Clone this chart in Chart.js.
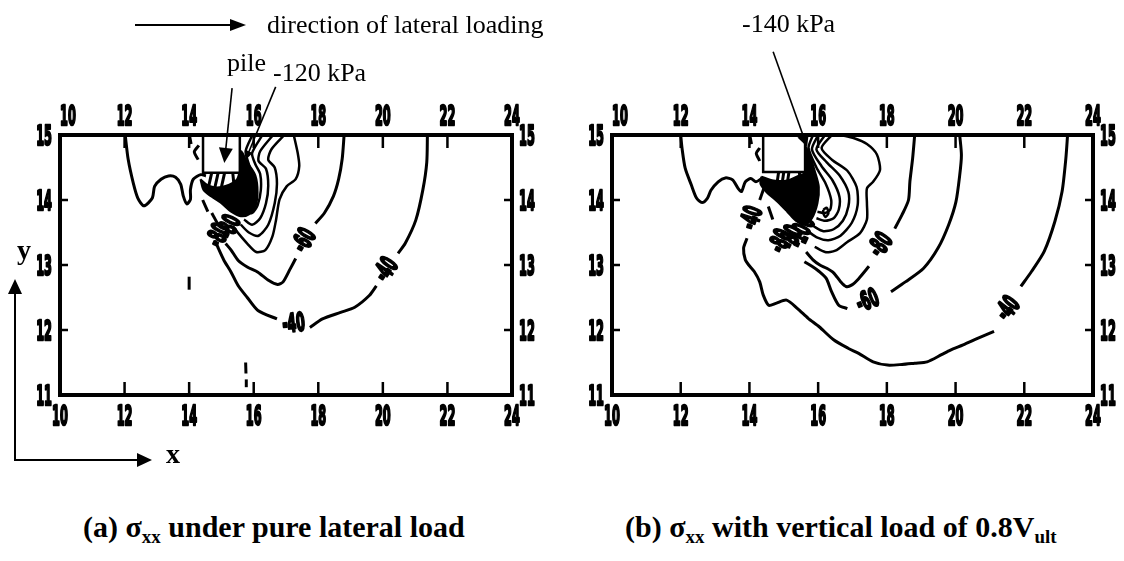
<!DOCTYPE html>
<html>
<head>
<meta charset="utf-8">
<title>sigma xx contours</title>
<script src="https://cdn.jsdelivr.net/npm/chart.js@4.4.1/dist/chart.umd.min.js"></script>
<style>
  body { margin:0; background:#fff; width:1124px; height:561px; position:relative; overflow:hidden; }
  canvas { position:absolute; top:0; }
  #plotA { left:10px; }
  #plotB { left:562px; }
  .ann { position:absolute; font-family:'Liberation Serif','Times New Roman',serif; font-size:26px; line-height:26px; white-space:nowrap; color:#000; }
  .cap { position:absolute; font-family:'Liberation Serif','Times New Roman',serif; font-weight:bold; font-size:30px; line-height:32px; white-space:nowrap; }
  .cap sub { font-size:19px; vertical-align:-6px; line-height:0; }
  .axl { position:absolute; font-family:'Liberation Serif','Times New Roman',serif; font-weight:bold; font-size:28px; line-height:28px; }
  svg { position:absolute; left:0; top:0; }
</style>
</head>
<body>

<svg width="1124" height="561">
  <!-- direction of loading arrow -->
  <line x1="135" y1="25" x2="232" y2="25" stroke="#000" stroke-width="2"/>
  <polygon points="246,25 230,19 230,31" fill="#000"/>
  <!-- x / y axis arrows -->
  <line x1="15" y1="461" x2="15" y2="292" stroke="#000" stroke-width="2"/>
  <polygon points="15,279 8,294 22,294" fill="#000"/>
  <line x1="14" y1="460" x2="139" y2="460" stroke="#000" stroke-width="2"/>
  <polygon points="152,460 137,453 137,467" fill="#000"/>
</svg>

<canvas id="plotA" width="552" height="440"></canvas>
<canvas id="plotB" width="562" height="440"></canvas>

<div class="ann" style="left:267px;top:12px">direction of lateral loading</div>
<div class="ann" style="left:227px;top:50px">pile</div>
<div class="ann" style="left:273px;top:60px">-120 kPa</div>
<div class="ann" style="left:742px;top:11px">-140 kPa</div>
<div class="axl" style="left:17px;top:236px">y</div>
<div class="axl" style="left:166px;top:440px">x</div>
<div class="cap" style="left:83px;top:511px">(a) &sigma;<sub>xx</sub> under pure lateral load</div>
<div class="cap" style="left:625px;top:511px">(b) &sigma;<sub>xx</sub> with vertical load of 0.8V<sub>ult</sub></div>

<script>
// axis ticks (same for both panels)
var xTicks = [10, 12, 14, 16, 18, 20, 22, 24];
var yTicks = [11, 12, 13, 14, 15];

// ---------- panel (a): pure lateral load ----------
var aPile = [[14.43,15.0],[15.57,15.0],[15.57,14.42],[14.43,14.42],[14.43,15.0]];
var aCore = [[14.35,14.32],[14.6,14.22],[15.0,14.2],[15.45,14.3],[15.55,14.42],[15.6,14.75],[15.8,14.58],[16.05,14.38],
             [16.12,14.12],[16.05,13.9],[15.85,13.78],[15.6,13.75],[15.3,13.82],[15.0,13.95],[14.7,14.05],[14.45,14.15],[14.35,14.32]];
var aFarLeft = [[12.02,15.0],[12.11,14.63],[12.27,14.26],[12.41,14.03],[12.6,13.91],[12.86,14.03],[12.93,14.21],[13.13,14.32],
                [13.36,14.37],[13.58,14.35],[13.74,14.24],[13.82,14.06],[13.93,13.94],[14.04,14.01],[14.04,14.16],[14.13,14.32],[14.36,14.39],[14.52,14.37]];
var aMinus40 = [
  [[21.38,15.0],[21.36,14.58],[21.24,14.16],[21.02,13.69],[20.69,13.33],[20.47,13.18]],
  [[19.8,12.68],[19.58,12.53],[19.13,12.35],[18.69,12.27],[18.13,12.17],[17.74,12.04]],
  [[16.72,12.17],[16.13,12.3],[15.8,12.5],[15.52,12.68],[15.3,12.89],[15.08,13.07],[14.91,13.25],[14.8,13.38]]
];
var aMinus60 = [
  [[18.8,15.0],[18.74,14.63],[18.63,14.32],[18.47,14.06],[18.19,13.8],[17.91,13.64]],
  [[17.3,13.1],[17.13,12.94],[16.91,12.74],[16.74,12.7],[16.47,12.76],[16.13,12.89],[15.8,12.97],[15.52,13.07],[15.3,13.23],[15.13,13.33]]
];
var aMinus80 = [[17.24,15.0],[17.36,14.73],[17.41,14.52],[17.3,14.32],[17.02,14.21],[16.8,14.01],[16.69,13.69],[16.58,13.44],
                [16.36,13.23],[16.08,13.2],[15.8,13.33],[15.52,13.49],[15.35,13.6]];
var aInner = [
  [[16.95,15.0],[16.55,14.78],[16.45,14.62],[16.65,14.5],[16.72,14.25],[16.65,13.95],[16.45,13.62],[16.15,13.45],[15.85,13.5],[15.6,13.62]],
  [[16.6,15.0],[16.2,14.75],[16.15,14.6],[16.38,14.48],[16.45,14.22],[16.38,13.95],[16.2,13.72],[15.95,13.62],[15.7,13.7]],
  [[16.27,15.0],[15.95,14.72],[16.05,14.55],[16.2,14.4],[16.22,14.15],[16.12,13.92],[15.95,13.8],[15.72,13.8]],
  [[15.96,15.0],[15.75,14.75],[15.85,14.55],[15.98,14.35],[15.98,14.12],[15.85,13.97],[15.7,13.92]]
];
var aBits = [
  [[14.7,14.42],[14.6,14.2]], [[14.9,14.42],[14.8,14.2]], [[15.1,14.42],[15.0,14.2]], [[15.35,14.42],[15.4,14.18]],
  [[14.42,14.0],[14.58,13.82]], [[14.7,13.8],[14.9,13.62]],
  [[14.02,14.97],[14.06,14.86]], [[14.3,14.84],[14.16,14.74],[14.28,14.62]],
  [[14.0,12.82],[14.0,12.62]], [[15.75,11.5],[15.76,11.33]], [[15.77,11.24],[15.77,11.12]]
];
var aLabelX = [20.13, 17.24, 17.6, 14.95, 15.28];
var aLabelY = [12.92, 12.08, 13.37, 13.45, 13.58];
var aLabelText = ['-40', '-40', '-60', '-80', '-80'];
var aLabelRot = [-56, -6, -60, -65, -65];

// ---------- panel (b): with vertical load 0.8 Vult ----------
var bPile = [[14.4,15.0],[15.62,15.0],[15.62,14.43],[14.4,14.43],[14.4,15.0]];
var bCore = [[14.35,14.36],[14.7,14.3],[15.1,14.3],[15.45,14.38],[15.62,14.42],[15.62,14.82],[15.75,14.7],[15.9,14.45],[16.02,14.2],
             [15.98,13.95],[15.82,13.72],[15.6,13.62],[15.35,13.68],[15.1,13.82],[14.8,13.98],[14.5,14.12],[14.32,14.25],[14.35,14.36]];
var bFarLeft = [[12.0,15.0],[12.04,14.79],[12.13,14.49],[12.31,14.23],[12.46,14.03],[12.62,13.96],[12.78,14.03],[12.88,14.15],
                [13.09,14.28],[13.3,14.34],[13.51,14.31],[13.67,14.18],[13.77,14.13],[13.88,14.28],[14.04,14.33],[14.19,14.28],[14.35,14.33]];
var bMinus40 = [
  [[23.26,15.0],[23.21,14.64],[23.1,14.13],[22.89,13.67],[22.58,13.21],[22.21,12.9],[21.9,12.67]],
  [[21.12,11.98],[20.64,11.87],[20.22,11.77],[19.85,11.69],[19.59,11.62],[19.17,11.51],[18.81,11.49],[18.44,11.47],[18.02,11.46],
   [17.6,11.51],[17.18,11.64],[16.87,11.72],[16.45,11.85],[16.03,12.05],[15.71,12.18],[15.4,12.33],[15.08,12.46],[14.77,12.41],
   [14.56,12.38],[14.4,12.54],[14.3,12.74],[14.14,12.9],[13.98,13.0],[13.88,13.08],[13.83,13.26],[13.93,13.41]],
  [[14.3,14.0],[14.4,14.15],[14.45,14.22]]
];
var bMinus60 = [
  [[20.12,15.0],[20.17,14.69],[20.12,14.38],[20.01,13.97],[19.8,13.62],[19.49,13.26],[19.07,12.95],[18.54,12.74],[18.12,12.59]],
  [[16.85,12.33],[16.6,12.38],[16.39,12.59],[16.24,12.79],[16.03,12.9],[15.82,12.98],[15.6,13.05]]
];
var bMinus80 = [
  [[18.81,15.0],[18.75,14.64],[18.67,14.28],[18.63,14.0],[18.44,13.77],[18.23,13.56]],
  [[17.48,12.98],[17.18,12.79],[16.97,12.69],[16.81,12.67],[16.66,12.74],[16.45,12.88],[16.25,12.95],[16.05,13.0],[15.85,13.08],[15.65,13.2]]
];
var bMinus100 = [[16.64,15.0],[17.05,14.95],[17.42,14.86],[17.71,14.7],[17.8,14.46],[17.6,14.28],[17.42,14.18],[17.42,13.95],
                 [17.42,13.7],[17.22,13.49],[16.84,13.35],[16.5,13.22],[16.2,13.2],[15.9,13.28]];
var bInner = [
  [[16.4,15.0],[16.1,14.8],[16.4,14.62],[16.85,14.45],[17.12,14.2],[17.15,13.92],[16.98,13.65],[16.65,13.45],[16.3,13.38],[15.98,13.42],[15.7,13.52]],
  [[16.2,15.0],[15.95,14.78],[16.25,14.58],[16.62,14.38],[16.88,14.12],[16.88,13.9],[16.72,13.68],[16.45,13.55],[16.15,13.52],[15.85,13.6]],
  [[16.0,15.0],[15.82,14.78],[16.1,14.52],[16.42,14.3],[16.62,14.05],[16.6,13.85],[16.45,13.72],[16.2,13.68],[15.95,13.72]],
  [[15.85,15.0],[15.72,14.8],[15.95,14.5],[16.22,14.25],[16.38,14.0],[16.35,13.85],[16.2,13.8],[15.98,13.82]],
  [[16.15,13.85],[16.25,13.88],[16.3,13.8],[16.22,13.74],[16.15,13.8],[16.15,13.85]]
];
var bBits = [
  [[14.85,14.43],[14.8,14.25]], [[15.0,14.43],[14.95,14.25]], [[15.15,14.43],[15.1,14.25]], [[15.45,14.43],[15.5,14.25]],
  [[14.55,13.9],[14.68,13.7]],
  [[14.02,14.97],[14.06,14.86]], [[14.3,14.8],[14.2,14.72],[14.3,14.6]]
];
var bLabelX = [21.55, 17.45, 17.85, 14.1, 14.95, 15.25, 15.55];
var bLabelY = [12.32, 12.43, 13.3, 13.72, 13.36, 13.42, 13.5];
var bLabelText = ['-40', '-60', '-80', '-40', '-80', '-80', '-100'];
var bLabelRot = [-52, -22, -55, -72, -65, -65, -65];

var HEAVY = "'DejaVu Sans', 'Liberation Sans', sans-serif";

function pts(arr) {
  return arr.map(function (p) { return { x: p[0], y: p[1] }; });
}

function lineSet(arr, w) {
  return { data: pts(arr), showLine: true, borderColor: '#000', borderWidth: w, pointRadius: 0,
           tension: 0.25, fill: false, order: 5 };
}

// condensed heavy text, like the old plotting package
function narrowText(ctx, txt, x, y, align, k, rot) {
  ctx.save();
  ctx.translate(x, y);
  if (rot) ctx.rotate(rot * Math.PI / 180);
  ctx.scale(k, 1);
  ctx.textAlign = align;
  ctx.lineWidth = 2.6;
  ctx.lineJoin = 'round';
  ctx.strokeText(txt, 0, 0);
  ctx.fillText(txt, 0, 0);
  ctx.restore();
}

// frame, inward ticks, tick labels, contour labels and the pointer arrows
var decor = {
  id: 'decor',
  afterDatasetsDraw: function (chart, args, o) {
    var ctx = chart.ctx, a = chart.chartArea, sx = chart.scales.x, sy = chart.scales.y;
    ctx.save();
    ctx.strokeStyle = '#000';
    ctx.fillStyle = '#000';
    ctx.lineWidth = 4;
    ctx.strokeRect(a.left, a.top, a.right - a.left, a.bottom - a.top);
    ctx.lineWidth = 2.5;
    ctx.beginPath();
    xTicks.slice(1, -1).forEach(function (v) {
      var p = sx.getPixelForValue(v);
      ctx.moveTo(p, a.bottom); ctx.lineTo(p, a.bottom - 13);
      ctx.moveTo(p, a.top); ctx.lineTo(p, a.top + 13);
    });
    yTicks.slice(1, -1).forEach(function (v) {
      var p = sy.getPixelForValue(v);
      ctx.moveTo(a.left, p); ctx.lineTo(a.left + 8, p);
      ctx.moveTo(a.right, p); ctx.lineTo(a.right - 8, p);
    });
    ctx.stroke();

    // tick labels on all four sides
    ctx.font = 'bold 27px ' + HEAVY;
    ctx.textBaseline = 'alphabetic';
    xTicks.forEach(function (v, i) {
      var p = sx.getPixelForValue(v);
      narrowText(ctx, String(v), p + (i === 0 ? 8 : 0), a.top - 10, 'center', 0.42);
      narrowText(ctx, String(v), p, a.bottom + 30, 'center', 0.42);
    });
    yTicks.forEach(function (v) {
      var p = sy.getPixelForValue(v) + 10;
      narrowText(ctx, String(v), a.left - 8, p, 'right', 0.42);
      narrowText(ctx, String(v), a.right + 7, p, 'left', 0.42);
    });

    // contour values
    ctx.font = 'bold 25px ' + HEAVY;
    ctx.textBaseline = 'middle';
    o.lx.forEach(function (v, i) {
      narrowText(ctx, o.lt[i], sx.getPixelForValue(v), sy.getPixelForValue(o.ly[i]), 'center', 0.5, o.lr[i]);
    });

    o.arrows.forEach(function (ar) {
      var x1 = sx.getPixelForValue(ar[0]), y1 = sy.getPixelForValue(ar[1]);
      var x2 = sx.getPixelForValue(ar[2]), y2 = sy.getPixelForValue(ar[3]);
      var ang = Math.atan2(y2 - y1, x2 - x1), L = ar[4], W = ar[5];
      ctx.lineWidth = 1.6;
      ctx.beginPath();
      ctx.moveTo(x1, y1);
      ctx.lineTo(x2 - Math.cos(ang) * L * 0.8, y2 - Math.sin(ang) * L * 0.8);
      ctx.stroke();
      ctx.beginPath();
      ctx.moveTo(x2, y2);
      ctx.lineTo(x2 - Math.cos(ang) * L + Math.sin(ang) * W, y2 - Math.sin(ang) * L - Math.cos(ang) * W);
      ctx.lineTo(x2 - Math.cos(ang) * L - Math.sin(ang) * W, y2 - Math.sin(ang) * L + Math.cos(ang) * W);
      ctx.closePath();
      ctx.fill();
    });
    ctx.restore();
  }
};

function makePanel(id, p) {
  var ds = [];
  ds.push({ data: pts(p.pile), showLine: true, borderColor: '#000', borderWidth: 2.5, backgroundColor: '#fff',
            fill: 'shape', pointRadius: 0, tension: 0, order: 0 });
  ds.push({ data: pts(p.core), showLine: true, borderColor: '#000', borderWidth: 2, backgroundColor: '#000',
            fill: 'shape', pointRadius: 0, tension: 0.3, order: 1 });
  ds.push(lineSet(p.farLeft, 3));
  p.major.forEach(function (c) { c.forEach(function (s) { ds.push(lineSet(s, 3)); }); });
  p.inner.forEach(function (s) { ds.push(lineSet(s, 2.5)); });
  p.bits.forEach(function (s) { ds.push(lineSet(s, 3)); });

  function axis(pos, min, max, vals, size, horiz) {
    return {
      type: 'linear', position: pos, min: min, max: max,
      grid: { display: false }, border: { display: false }, ticks: { display: false },
      afterBuildTicks: function (s) { s.ticks = vals.map(function (v) { return { value: v }; }); },
      afterFit: function (s) { if (horiz) s.height = size; else s.width = size; }
    };
  }

  return new Chart(document.getElementById(id), {
    type: 'scatter',
    data: { datasets: ds },
    options: {
      responsive: false, animation: false, devicePixelRatio: 1,
      layout: { padding: 0 },
      plugins: {
        legend: { display: false }, tooltip: { enabled: false },
        decor: { lx: p.lx, ly: p.ly, lt: p.lt, lr: p.lr, arrows: p.arrows }
      },
      scales: {
        x: axis('bottom', 10, 24, xTicks, 45, true),
        x2: axis('top', 10, 24, xTicks, 135, true),
        y: axis('left', 11, 15, yTicks, 50, false),
        y2: axis('right', 11, 15, yTicks, p.rightW, false)
      }
    },
    plugins: [decor]
  });
}

makePanel('plotA', {
  pile: aPile, core: aCore, farLeft: aFarLeft, major: [aMinus40, aMinus60], inner: [aMinus80].concat(aInner), bits: aBits,
  lx: aLabelX, ly: aLabelY, lt: aLabelText, lr: aLabelRot, rightW: 50,
  arrows: [[15.33, 15.72, 15.09, 14.57, 15, 7], [16.68, 15.74, 15.75, 14.62, 9, 4]]
});
makePanel('plotB', {
  pile: bPile, core: bCore, farLeft: bFarLeft, major: [bMinus40, bMinus60, bMinus80], inner: [bMinus100].concat(bInner), bits: bBits,
  lx: bLabelX, ly: bLabelY, lt: bLabelText, lr: bLabelRot, rightW: 31,
  arrows: [[14.69, 16.28, 15.68, 14.82, 12, 6]]
});
</script>
</body>
</html>
